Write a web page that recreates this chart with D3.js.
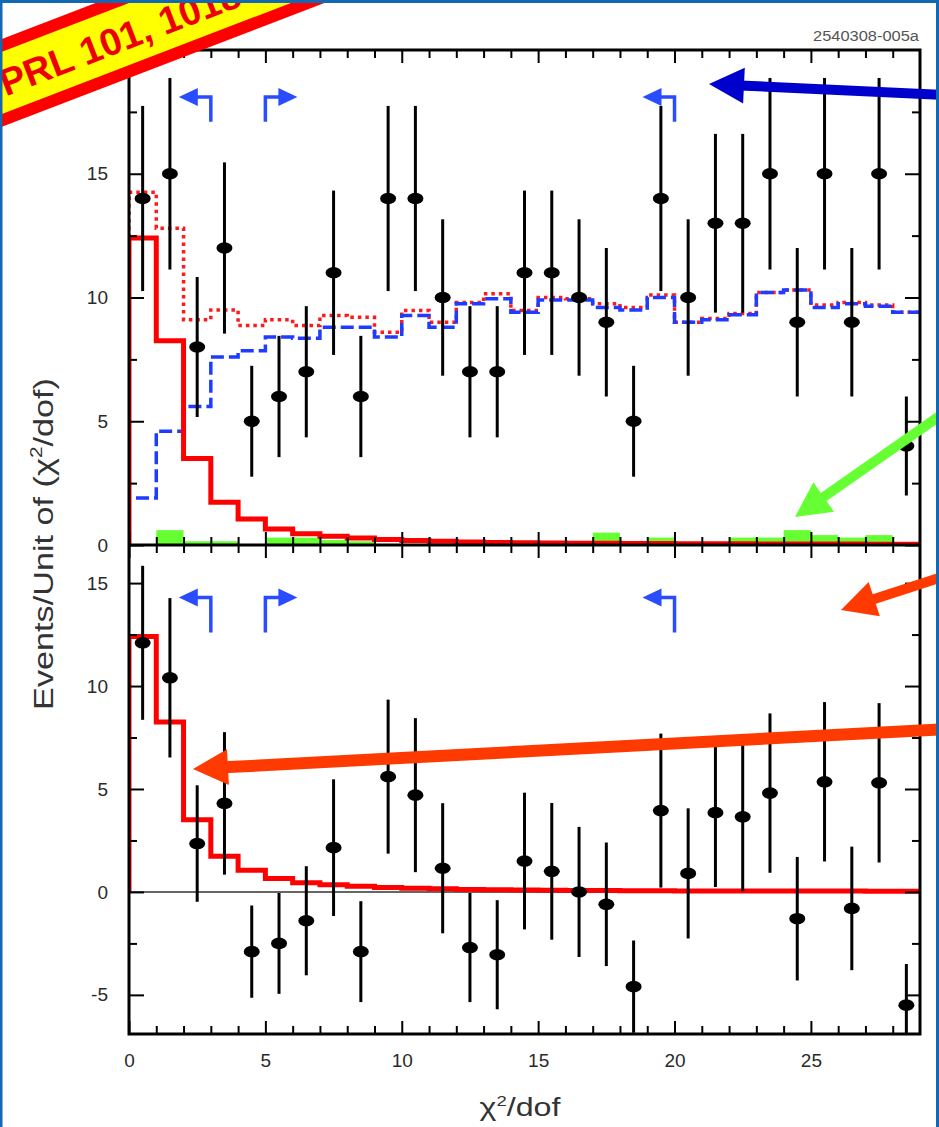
<!DOCTYPE html>
<html>
<head>
<meta charset="utf-8">
<script src="https://cdn.jsdelivr.net/npm/d3@7"></script>
<style>
  body { margin: 0; background: #fff; }
  svg { display: block; font-family: "Liberation Sans", Arial, sans-serif; }
</style>
</head>
<body>
<svg id="chart"></svg>
<script>
// bin centres, chi2/dof (unit bins)
const chi2 = [0.5, 1.5, 2.5, 3.5, 4.5, 5.5, 6.5, 7.5, 8.5, 9.5, 10.5, 11.5, 12.5, 13.5, 14.5,
    15.5, 16.5, 17.5, 18.5, 19.5, 20.5, 21.5, 22.5, 23.5, 24.5, 25.5, 26.5, 27.5, 28.5]

// top panel: data events and errors
const events = [14, 15, 8, 12, 5, 6, 7, 11, 6, 14, 14, 10, 7, 7, 11, 11, 10, 9, 5, 14, 10, 13, 13, 15, 9, 15, 9, 15, 4]
const eventErr = [3.74, 3.87, 2.83, 3.46, 2.24, 2.45, 2.65, 3.32, 2.45, 3.74, 3.74, 3.16, 2.65, 2.65, 3.32,
    3.32, 3.16, 3.0, 2.24, 3.74, 3.16, 3.61, 3.61, 3.87, 3.0, 3.87, 3.0, 3.87, 2.0]

// MC shapes
const signalMC = [12.4, 8.25, 3.5, 1.73, 1.05, 0.65, 0.45, 0.35, 0.28, 0.22, 0.18, 0.15, 0.12, 0.1, 0.09,
    0.08, 0.07, 0.07, 0.06, 0.06, 0.05, 0.05, 0.05, 0.04, 0.04, 0.04, 0.04, 0.03, 0.03]
const totalMC = [14.25, 12.8, 9.1, 9.5, 8.87, 9.1, 8.87, 9.27, 9.2, 8.6, 9.47, 9.0, 9.8, 10.15, 9.47,
    10.0, 9.95, 9.75, 9.6, 10.1, 9.0, 9.15, 9.35, 10.2, 10.3, 9.7, 9.8, 9.7, 9.4]
const backgroundMC = [1.9, 4.6, 5.6, 7.6, 7.85, 8.4, 8.35, 8.8, 8.8, 8.4, 9.27, 8.8, 9.75, 9.95, 9.4,
    9.9, 9.9, 9.6, 9.5, 10.0, 9.0, 9.1, 9.3, 10.2, 10.3, 9.6, 9.75, 9.65, 9.4]
const sideband = [0, 0.6, 0.15, 0.15, 0, 0.3, 0.3, 0.2, 0.15, 0, 0, 0, 0, 0, 0,
    0, 0, 0.5, 0, 0.3, 0, 0, 0.3, 0.3, 0.6, 0.4, 0.3, 0.4, 0]

// bottom panel: background subtracted
const subtracted = [12.1, 10.4, 2.35, 4.3, -2.9, -2.5, -1.4, 2.15, -2.9, 5.6, 4.7, 1.15, -2.7, -3.05, 1.5,
    1.0, 0.0, -0.6, -4.6, 3.95, 0.9, 3.85, 3.65, 4.8, -1.3, 5.35, -0.8, 5.3, -5.5]

// ticks
const xMajor = [0, 5, 10, 15, 20, 25]
const xMinor = [1, 2, 3, 4, 6, 7, 8, 9, 11, 12, 13, 14, 16, 17, 18, 19, 21, 22, 23, 24, 26, 27, 28]
const topYMajor = [0, 5, 10, 15]
const topYMinor = [2.5, 7.5, 12.5, 17.5]
const botYMajor = [-5, 0, 5, 10, 15]
const botYMinor = [-2.5, 2.5, 7.5, 12.5]

// chi2/dof cuts
const cuts = [3, 5, 20]
const cutDir = [-1, 1, -1]

const width = 939, height = 1127
const plot = { left: 129, right: 920, top: 50, mid: 545, bottom: 1034 }

const x = d3.scaleLinear().domain([0, 29]).range([plot.left, plot.right])
const yTop = d3.scaleLinear().domain([0, 20]).range([plot.mid, plot.top])
const yBot = d3.scaleLinear().domain([-6.9, 16.85]).range([plot.bottom, plot.mid])

const svg = d3.select("#chart")
    .attr("width", width)
    .attr("height", height)
    .attr("viewBox", [0, 0, width, height])

svg.append("rect").attr("width", width).attr("height", height).attr("fill", "#fff")

const defs = svg.append("defs")
defs.append("clipPath").attr("id", "clipTop").append("rect")
    .attr("x", plot.left).attr("y", plot.top)
    .attr("width", plot.right - plot.left).attr("height", plot.mid - plot.top)
defs.append("clipPath").attr("id", "clipBot").append("rect")
    .attr("x", plot.left).attr("y", plot.mid)
    .attr("width", plot.right - plot.left).attr("height", plot.bottom - plot.mid)

const steps = values => {
    const pts = [[chi2[0] - 0.5, 0]]
    values.forEach((v, i) => pts.push([chi2[i] - 0.5, v]))
    pts.push([chi2[chi2.length - 1] + 0.5, values[values.length - 1]])
    return pts
}
const stepLine = y => d3.line().curve(d3.curveStepAfter).x(d => x(d[0])).y(d => y(d[1]))

function points(g, y, values) {
    const pts = g.append("g").selectAll("g")
        .data(values.map((v, i) => ({ c: chi2[i], v, e: eventErr[i] })))
        .join("g")
    pts.append("line")
        .attr("x1", d => x(d.c)).attr("x2", d => x(d.c))
        .attr("y1", d => y(d.v - d.e)).attr("y2", d => y(d.v + d.e))
        .attr("stroke", "#000").attr("stroke-width", 3)
    pts.append("ellipse")
        .attr("cx", d => x(d.c)).attr("cy", d => y(d.v))
        .attr("rx", 8).attr("ry", 5.8)
        .attr("fill", "#000")
}

// top panel
const topPanel = svg.append("g").attr("clip-path", "url(#clipTop)")
topPanel.append("g").selectAll("rect")
    .data(sideband.map((v, i) => ({ c: chi2[i], v })).filter(d => d.v > 0))
    .join("rect")
    .attr("x", d => x(d.c - 0.5))
    .attr("width", x(1) - x(0))
    .attr("y", d => yTop(d.v))
    .attr("height", d => yTop(0) - yTop(d.v))
    .attr("fill", "#66ff33")
topPanel.append("path")
    .attr("d", stepLine(yTop)(steps(totalMC)))
    .attr("fill", "none").attr("stroke", "#ff1a1a").attr("stroke-width", 3.5)
    .attr("stroke-dasharray", "3.5,4")
topPanel.append("path")
    .attr("d", stepLine(yTop)(steps(backgroundMC)))
    .attr("fill", "none").attr("stroke", "#1e3cff").attr("stroke-width", 3.5)
    .attr("stroke-dasharray", "13,5")
topPanel.append("path")
    .attr("d", stepLine(yTop)(steps(signalMC)))
    .attr("fill", "none").attr("stroke", "#ff0000").attr("stroke-width", 5)
points(topPanel, yTop, events)

// bottom panel
const botPanel = svg.append("g").attr("clip-path", "url(#clipBot)")
botPanel.append("line")
    .attr("x1", plot.left).attr("x2", plot.right)
    .attr("y1", yBot(0)).attr("y2", yBot(0))
    .attr("stroke", "#333").attr("stroke-width", 1.5)
botPanel.append("path")
    .attr("d", stepLine(yBot)(steps(signalMC)))
    .attr("fill", "none").attr("stroke", "#ff0000").attr("stroke-width", 5)
points(botPanel, yBot, subtracted)

// axes
const fmt = d => String(d)
const styleAxis = g => {
    g.select(".domain").remove()
    g.selectAll(".tick line").attr("stroke", "#000").attr("stroke-width", 2)
    g.selectAll(".tick text").attr("fill", "#2a2a2a").attr("font-size", 19)
        .attr("font-family", "'Liberation Sans', Arial, sans-serif")
}
function yAxes(y, major, minor) {
    svg.append("g").attr("transform", `translate(${plot.left},0)`)
        .call(d3.axisLeft(y).tickValues(major).tickSize(-15).tickPadding(21).tickFormat(fmt)).call(styleAxis)
    svg.append("g").attr("transform", `translate(${plot.left},0)`)
        .call(d3.axisLeft(y).tickValues(minor).tickSize(-8).tickFormat("")).call(styleAxis)
    svg.append("g").attr("transform", `translate(${plot.right},0)`)
        .call(d3.axisRight(y).tickValues(major).tickSize(-15).tickFormat("")).call(styleAxis)
    svg.append("g").attr("transform", `translate(${plot.right},0)`)
        .call(d3.axisRight(y).tickValues(minor).tickSize(-8).tickFormat("")).call(styleAxis)
}
yAxes(yTop, topYMajor, topYMinor)
yAxes(yBot, botYMajor, botYMinor)

function xAxis(axis, yPos, labels) {
    svg.append("g").attr("transform", `translate(0,${yPos})`)
        .call(axis(x).tickValues(xMajor).tickSize(-13).tickPadding(20).tickFormat(labels ? fmt : "")).call(styleAxis)
    svg.append("g").attr("transform", `translate(0,${yPos})`)
        .call(axis(x).tickValues(xMinor).tickSize(-8).tickFormat("")).call(styleAxis)
}
xAxis(d3.axisTop, plot.top, false)
xAxis(d3.axisBottom, plot.mid, false)
xAxis(d3.axisTop, plot.mid, false)
xAxis(d3.axisBottom, plot.bottom, true)

// frame
svg.append("rect")
    .attr("x", plot.left).attr("y", plot.top)
    .attr("width", plot.right - plot.left).attr("height", plot.bottom - plot.top)
    .attr("fill", "none").attr("stroke", "#000").attr("stroke-width", 3)
svg.append("line")
    .attr("x1", plot.left).attr("x2", plot.right)
    .attr("y1", plot.mid).attr("y2", plot.mid)
    .attr("stroke", "#000").attr("stroke-width", 3)

// cut arrows
function cutArrows(y, lo, hi) {
    cuts.forEach((c, i) => {
        const cx = x(c), d = cutDir[i], yl = y(lo), yh = y(hi)
        svg.append("path")
            .attr("d", `M${cx},${yl}V${yh}H${cx + d * 16}`)
            .attr("fill", "none").attr("stroke", "#2a4cff").attr("stroke-width", 3.5)
        svg.append("path")
            .attr("d", `M${cx + d * 32},${yh}L${cx + d * 13},${yh - 9}L${cx + d * 13},${yh + 9}Z`)
            .attr("fill", "#2a4cff")
    })
}
cutArrows(yTop, 17.1, 18.1)
cutArrows(yBot, 12.6, 14.3)

// slide annotation arrows
const overlayArrows = [
    { tail: [945, 95], tip: [709, 84], color: "#0000cc", w: 10 },
    { tail: [948, 410], tip: [795, 517], color: "#66ff33", w: 10 },
    { tail: [948, 575], tip: [841, 610], color: "#ff3a00", w: 10 },
    { tail: [948, 729], tip: [193, 769], color: "#ff3a00", w: 12 }
]
overlayArrows.forEach(a => {
    const dx = a.tip[0] - a.tail[0], dy = a.tip[1] - a.tail[1]
    const len = Math.hypot(dx, dy), ux = dx / len, uy = dy / len
    const hl = 35, hw = 18
    const bx = a.tip[0] - ux * hl, by = a.tip[1] - uy * hl
    svg.append("line")
        .attr("x1", a.tail[0]).attr("y1", a.tail[1])
        .attr("x2", bx + ux * 4).attr("y2", by + uy * 4)
        .attr("stroke", a.color).attr("stroke-width", a.w)
    svg.append("path")
        .attr("d", `M${a.tip[0]},${a.tip[1]}L${bx - uy * hw},${by + ux * hw}L${bx + uy * hw},${by - ux * hw}Z`)
        .attr("fill", a.color)
})

// labels, stretched to the measured widths of the original
function fitText(t, target, rotate) {
    const w = t.node().getComputedTextLength()
    const s = target / w
    const tx = +t.attr("data-x"), ty = +t.attr("data-y")
    t.attr("transform", `translate(${tx},${ty})${rotate ? " rotate(-90)" : ""} scale(${s},1)`)
}
const yLabel = svg.append("text")
    .attr("data-x", 53).attr("data-y", 544)
    .attr("text-anchor", "middle").attr("font-size", 28).attr("fill", "#333")
yLabel.append("tspan").text("Events/Unit of (χ")
yLabel.append("tspan").attr("font-size", 17).attr("dy", -11).text("2")
yLabel.append("tspan").attr("dy", 11).text("/dof)")
fitText(yLabel, 332, true)

const xLabel = svg.append("text")
    .attr("data-x", 520).attr("data-y", 1116)
    .attr("text-anchor", "middle").attr("font-size", 26).attr("fill", "#333")
xLabel.append("tspan").text("χ")
xLabel.append("tspan").attr("font-size", 15).attr("dy", -10).text("2")
xLabel.append("tspan").attr("dy", 10).text("/dof")
fitText(xLabel, 81, false)

const idLabel = svg.append("text")
    .attr("data-x", 866).attr("data-y", 41)
    .attr("text-anchor", "middle").attr("font-size", 15).attr("fill", "#555")
    .text("2540308-005a")
fitText(idLabel, 106, false)

// banner
const banner = svg.append("g").attr("transform", "translate(150,26) rotate(-21)")
banner.append("rect")
    .attr("x", -400).attr("y", -35).attr("width", 800).attr("height", 70)
    .attr("fill", "#ffff00").attr("stroke", "#ff0000").attr("stroke-width", 12)
banner.append("text")
    .attr("x", -160).attr("y", 14)
    .attr("font-size", 38).attr("font-weight", "bold").attr("fill", "#ee0000")
    .text("PRL 101, 101801 (2008)")

// slide border
const border = "#1268b3"
svg.append("rect").attr("x", 0).attr("y", 0).attr("width", width).attr("height", 3).attr("fill", border)
svg.append("rect").attr("x", 0).attr("y", 0).attr("width", 2.5).attr("height", height).attr("fill", border)
svg.append("rect").attr("x", 936).attr("y", 0).attr("width", 3).attr("height", height).attr("fill", border)
</script>
</body>
</html>
